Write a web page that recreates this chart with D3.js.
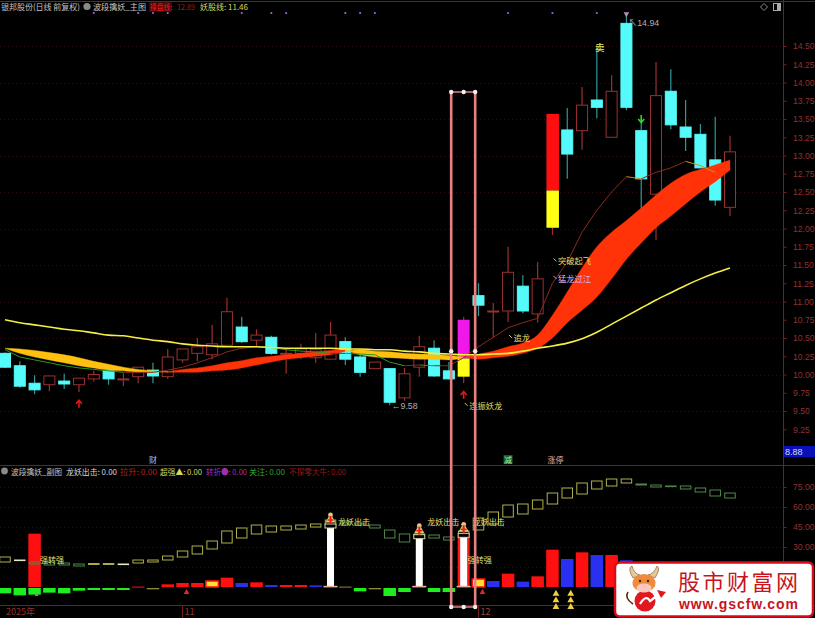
<!DOCTYPE html>
<html><head><meta charset="utf-8">
<script src="https://cdn.jsdelivr.net/npm/d3@7/dist/d3.min.js"></script>
<style>
html,body{margin:0;padding:0;background:#000;overflow:hidden}
svg{display:block}
text{font-family:"Liberation Sans","Noto Sans CJK SC",sans-serif}
.cjk{font-family:"Noto Sans CJK SC","Liberation Sans",sans-serif}
</style></head><body>
<svg id="c" width="815" height="618"></svg>
<script>
// ---------- data ----------
const open  =[10.29,10.12,9.88,9.86,9.91,9.86,9.94,10.05,9.94,9.97,10.06,9.97,10.20,10.29,10.27,10.40,10.65,10.47,10.51,10.29,10.29,10.23,10.21,10.45,10.24,10.08,10.08,9.68,10.10,10.36,10.05,9.97,11.08,10.87,10.87,11.21,10.83,12.01,13.35,13.34,13.76,13.25,14.81,13.34,12.47,13.88,13.39,13.29,12.94,12.29];
const close =[10.10,9.84,9.79,9.98,9.87,9.95,10.00,9.94,9.94,10.10,9.98,10.24,10.35,10.38,10.42,10.86,10.45,10.54,10.29,10.29,10.35,10.34,10.54,10.21,10.03,10.17,9.62,10.01,10.38,9.98,9.94,10.75,10.95,10.87,11.40,10.87,11.31,13.57,13.02,13.69,13.66,13.88,13.66,12.68,13.82,13.42,13.25,12.83,12.39,13.05];
const high  =[10.30,10.18,9.99,9.98,10.01,9.95,10.05,10.07,10.02,10.10,10.16,10.35,10.35,10.50,10.68,11.05,10.79,10.62,10.53,10.36,10.42,10.57,10.72,10.51,10.34,10.17,10.08,10.09,10.53,10.47,10.17,10.79,11.25,10.98,11.75,11.36,11.54,13.57,13.65,13.94,14.51,14.10,14.94,13.49,14.28,14.18,13.76,13.43,13.53,13.27];
const low   =[10.09,9.82,9.73,9.77,9.80,9.76,9.90,9.86,9.84,9.88,9.88,9.94,10.16,10.18,10.21,10.40,10.43,10.39,10.27,10.01,10.21,10.16,10.21,10.13,9.97,10.08,9.58,9.64,9.97,9.97,9.93,9.88,10.80,10.51,10.72,10.84,10.71,11.91,12.68,13.08,13.51,13.25,13.62,12.25,11.84,13.36,13.06,12.83,12.31,12.17];
const longLine=[10.75,10.71,10.68,10.65,10.62,10.60,10.57,10.54,10.53,10.50,10.47,10.45,10.42,10.40,10.39,10.38,10.38,10.38,10.37,10.36,10.36,10.36,10.36,10.35,10.35,10.34,10.34,10.32,10.31,10.29,10.28,10.27,10.27,10.28,10.29,10.32,10.36,10.39,10.43,10.49,10.58,10.69,10.80,10.91,11.02,11.12,11.22,11.31,11.39,11.46];
const ribbonFast=[10.36,10.29,10.24,10.20,10.16,10.12,10.09,10.06,10.05,10.03,10.03,10.04,10.07,10.09,10.12,10.16,10.19,10.23,10.25,10.27,10.29,10.31,10.33,10.34,10.27,10.24,10.23,10.22,10.21,10.21,10.20,10.23,10.28,10.32,10.38,10.43,10.54,10.81,11.13,11.46,11.75,11.95,12.11,12.28,12.46,12.62,12.74,12.81,12.87,12.94];
const ribbonSlow=[10.36,10.35,10.33,10.30,10.27,10.23,10.18,10.14,10.10,10.07,10.05,10.03,10.03,10.03,10.05,10.06,10.09,10.13,10.17,10.21,10.23,10.25,10.27,10.32,10.34,10.32,10.31,10.29,10.28,10.27,10.26,10.24,10.21,10.23,10.25,10.29,10.36,10.50,10.71,10.88,11.06,11.31,11.58,11.80,12.01,12.17,12.34,12.50,12.64,12.80];
const midLine=[10.34,10.24,10.20,10.16,10.12,10.09,10.07,10.05,10.03,10.03,10.03,10.06,10.10,10.16,10.23,10.31,10.36,10.38,10.37,10.34,10.32,10.31,10.29,10.29,10.28,10.27,10.17,10.12,10.13,10.12,10.12,10.23,10.38,10.51,10.64,10.71,10.77,11.25,11.54,11.95,12.25,12.50,12.71,12.68,12.77,12.83,12.92,12.86,12.77];
const priceTicks=[14.5,14.25,14,13.75,13.5,13.25,13,12.75,12.5,12.25,12,11.75,11.5,11.25,11,10.75,10.5,10.25,10,9.75,9.5,9.25];
const priceGrid=[14.5,14,13.5,13,12.5,12,11.5,11,10.5,10,9.5];
const topDots=[6,9,10,11,16,18,19,23,24,25,34,37,40];

const subOpen =[18.75,20.25,18.75,18.75,18,17.25,16.9,16.9,17.25,18,18.75,20.25,22.5,24.75,28.5,33,36.75,39.75,41.25,42.75,43.5,45,46.5,48.75,48,46.5,42.75,39.75,37.5,39,37.5,39,42.75,47.25,52.5,54.75,58.5,62.25,66.75,69.75,73.5,75.75,78,77.25,76.5,75.75,75.75,74.25,72.75,70.5];
const subClose=[22.5,20.25,17.25,16.5,16.5,15.75,17.6,17.6,17.25,20.25,20.25,23.25,27,30.75,34.5,42,44.25,46.5,45.75,45.75,46.5,47.25,50.25,47.25,46.5,44.25,36.75,33.75,39.75,36.75,35.25,42,51.75,56.25,61.5,62.25,65.25,70.5,74.25,78,79.5,81,81,76.5,75,75.4,73.5,71.25,68.25,66.75];
const barValue=[-4,-5.5,40,-3.5,-4,-2,-1.5,-1.5,-1.5,0.3,-1,2,3,3,4.5,7,3,3.5,1.5,1.5,1.5,1.2,45,0.3,-2.5,-1,-6,-3,37,-3,-3,38,6,4.5,10,4,8,28,21,26,24,24,20,0,0,0,0,0,0,0];
const barKind =["g","g","r","g","g","g","g","g","g","r","o","r","r","r","y","r","b","r","b","r","r","b","w","o","g","o","g","g","w","g","g","w","y","b","r","b","r","r","b","r","b","r","b","g","g","g","g","g","g","g"];
const dipIndex=[2], dipValue=[-5];
const pillarIndex=[22,28,31];
const subTicks=[75,60,45,30];
const subGrid=[75,60,45,30,15];
const triIndex=[37,38];
const chartLabels=[
 {i:37,p:11.55,t:"突破起飞",c:"#e8dc6a"},
 {i:37,p:11.31,t:"猛龙过江",c:"#d8b4e8"},
 {i:34,p:10.50,t:"追龙",c:"#e8dc6a"},
 {i:31,p:9.57,t:"连振妖龙",c:"#e8dc6a"}];
const priceNotes=[
 {i:26,p:9.57,t:"←9.58"},
 {i:42,p:14.81,t:"↖14.94"}];
const subLabels=[
 {i:2,v:20,dx:5.5,t:"强转强"},{i:22,v:48.75,dx:7.5,t:"龙妖出击"},{i:28,v:48.75,dx:8,t:"龙妖出击"},{i:31,v:48.75,dx:9,t:"龙妖出击"},{i:31,v:20,dx:4,t:"强转强"}];
const dateTicks=[{i:0,t:"2025年"},{i:12,t:"11"},{i:32,t:"12"}];

// ---------- scales ----------
const svg=d3.select("#c");
const W=815,H=618,axisX=783.5;
const x=d3.scaleLinear().domain([0,49]).range([5,730]);
const y=d3.scaleLinear().domain([10,14.5]).range([374.5,46]);
const ys=d3.scaleLinear().domain([0,75]).range([587,487]);
const RED="#9a3030",CY="#55fbfb",DARK="#7a1c1c";
svg.append("rect").attr("width",W).attr("height",H).attr("fill","#000");

// grid
const grid=svg.append("g").attr("stroke","#2e0c0c").attr("stroke-width",1).attr("stroke-dasharray","1 3");
grid.selectAll(".a").data(priceGrid).join("line").attr("x1",0).attr("x2",axisX).attr("y1",d=>Math.round(y(d))+.5).attr("y2",d=>Math.round(y(d))+.5);
grid.selectAll(".b").data(subGrid).join("line").attr("x1",0).attr("x2",axisX).attr("y1",d=>Math.round(ys(d))+.5).attr("y2",d=>Math.round(ys(d))+.5);

// frame
const frame=svg.append("g").attr("stroke",DARK).attr("stroke-width",1);
frame.append("line").attr("x1",0).attr("x2",W).attr("y1",1.5).attr("y2",1.5);
frame.append("line").attr("x1",0).attr("x2",W).attr("y1",465.5).attr("y2",465.5);
frame.append("line").attr("x1",0).attr("x2",W).attr("y1",605.5).attr("y2",605.5);
frame.append("line").attr("x1",axisX).attr("x2",axisX).attr("y1",0).attr("y2",605);

// axes
function styleAxis(g){g.select(".domain").remove();g.selectAll("line").attr("stroke",DARK);
 g.selectAll("text").attr("fill","#93302f").attr("font-size",8.6).style("font-family","Liberation Sans");}
svg.append("g").attr("transform",`translate(${axisX},0)`).call(d3.axisRight(y).tickValues(priceTicks).tickFormat(d3.format(".2f")).tickSize(3).tickPadding(6.5)).call(styleAxis);
svg.append("g").attr("transform",`translate(${axisX},0)`).call(d3.axisRight(ys).tickValues(subTicks).tickFormat(d3.format(".2f")).tickSize(3).tickPadding(6.5)).call(styleAxis);

// 8.88 tag
svg.append("rect").attr("x",784).attr("y",446).attr("width",31).attr("height",11).attr("fill","#0a10b8");
svg.append("text").attr("x",785).attr("y",454.5).attr("fill","#d8d8ff").attr("font-size",9).text("8.88");

// candles
const idx=d3.range(open.length);
const cg=svg.append("g");
const bw=11;
cg.selectAll(".w").data(idx).join("line")
 .attr("x1",i=>x(i)).attr("x2",i=>x(i)).attr("y1",i=>y(high[i])).attr("y2",i=>y(low[i]))
 .attr("stroke",i=>close[i]<open[i]?"#2f9a9a":RED).attr("stroke-width",1.2);
cg.selectAll(".b").data(idx.filter(i=>i!==31&&i!==37)).join("rect")
 .attr("x",i=>x(i)-bw/2).attr("width",bw)
 .attr("y",i=>y(Math.max(open[i],close[i])))
 .attr("height",i=>Math.max(1,Math.abs(y(open[i])-y(close[i]))))
 .attr("fill",i=>close[i]<open[i]?CY:"#000")
 .attr("stroke",i=>close[i]<open[i]?CY:RED).attr("stroke-width",1);

// special bars (index 31 magenta/yellow, index 37 red/yellow)
const splitA=10.22, splitB=12.52;
cg.append("rect").attr("x",x(31)-6).attr("width",12).attr("y",y(close[31])).attr("height",y(splitA)-y(close[31])).attr("fill","#f018e8");
cg.append("rect").attr("x",x(31)-6).attr("width",12).attr("y",y(splitA)).attr("height",y(open[31])-y(splitA)).attr("fill","#ffff14");
cg.append("rect").attr("x",x(37)-6).attr("width",12.5).attr("y",y(close[37])).attr("height",y(splitB)-y(close[37])).attr("fill","#ff0f0f");
cg.append("rect").attr("x",x(37)-6).attr("width",12.5).attr("y",y(splitB)).attr("height",y(open[37])-y(splitB)).attr("fill","#ffff14");

// ribbon: one smooth area per stretch of equal sign
const rib=svg.append("g");
const ribArea=d3.area().x(d=>x(d)).y0(d=>y(ribbonFast[d])).y1(d=>y(ribbonSlow[d])).curve(d3.curveMonotoneX);
[[0,11,"#ffc010"],[11,23,"#ff3208"],[23,31,"#ffc010"],[31,49,"#ff3208"]].forEach(s=>{
 rib.append("path").attr("d",ribArea(d3.range(s[0],s[1]+1))).attr("fill",s[2]).attr("stroke",s[2]).attr("stroke-width",.4);
});
// thin line
const mg=svg.append("g").attr("fill","none").attr("stroke-width",1);
d3.range(midLine.length-1).forEach(i=>{
 const fall=midLine[i+1]<midLine[i];
 mg.append("line").attr("x1",x(i)).attr("x2",x(i+1)).attr("y1",y(midLine[i])).attr("y2",y(midLine[i+1]))
  .attr("stroke",!fall?"#8a2a1c":(i>40?"#c89020":"#2a9a2a"));
});
// long yellow
svg.append("path").attr("d",d3.line().x((d,i)=>x(i)).y(d=>y(d)).curve(d3.curveMonotoneX)(longLine)).attr("fill","none").attr("stroke","#f4f040").attr("stroke-width",1.6);

// top dots
svg.append("g").selectAll("circle").data(topDots).join("circle").attr("cx",i=>x(i)).attr("cy",13).attr("r",1.1).attr("fill","#b060d8");
svg.append("path").attr("d",d3.symbol(d3.symbolTriangle,14)()).attr("transform",`translate(${x(42)},14) rotate(180)`).attr("fill","#b090b0");

// arrows
function upArrow(i,p,col,flip){const g=svg.append("g").attr("transform",`translate(${x(i)},${y(p)})${flip?" rotate(180)":""}`).attr("stroke",col).attr("fill","none").attr("stroke-width",1.6);
 g.append("line").attr("x1",0).attr("x2",0).attr("y1",-3).attr("y2",4);
 g.append("path").attr("d","M-3,0 L0,-3.5 L3,0");}
upArrow(5,9.6,"#e81818");upArrow(31,9.72,"#e81818");upArrow(43,13.5,"#28d828",true);

// sell mark
svg.append("text").attr("class","cjk").attr("x",x(40)+3).attr("y",y(14.51)+6).attr("text-anchor","middle").attr("font-size",9.5).attr("font-weight",700).attr("fill","#c8c850").text("卖");

// labels: small slanted tick followed by the text
const lab=svg.append("g").selectAll("g").data(chartLabels).join("g");
lab.append("line").attr("x1",d=>x(d.i)+1).attr("x2",d=>x(d.i)+4).attr("y1",d=>y(d.p)-3).attr("y2",d=>y(d.p)).attr("stroke",d=>d.c).attr("stroke-width",.9);
lab.append("text").attr("class","cjk").attr("x",d=>x(d.i)+5.5).attr("y",d=>y(d.p)).attr("dy",".36em").attr("font-size",8.3).attr("fill",d=>d.c).text(d=>d.t);
svg.append("g").selectAll("text").data(priceNotes).join("text")
 .attr("x",d=>x(d.i)+2).attr("y",d=>y(d.p)).attr("dy",".35em").attr("font-size",8.8).attr("fill","#b0b0b0").text(d=>d.t);

// sub panel bars
const sg=svg.append("g");
const bc={g:"#1eee1e",r:"#ff1010",b:"#2a30f0",o:"#8a8a3a",y:"#ffe030",w:"#fff"};
const sbw=12.5;
sg.selectAll(".bar").data(idx.filter(i=>barValue[i]!==0&&!pillarIndex.includes(i))).join("rect")
 .attr("x",i=>x(i)-sbw/2).attr("width",sbw)
 .attr("y",i=>barValue[i]>0?ys(barValue[i]):ys(0)+1)
 .attr("height",i=>Math.max(1,Math.abs(ys(barValue[i])-ys(0))))
 .attr("fill",i=>bc[barKind[i]])
 .attr("stroke",i=>barKind[i]==="y"?"#ff1010":"none").attr("stroke-width",1.5);
sg.selectAll(".dip").data(dipIndex).join("rect").attr("x",i=>x(i)-sbw/2).attr("width",sbw).attr("y",ys(0)+1)
 .attr("height",(d,k)=>ys(dipValue[k])-ys(0)).attr("fill",bc.g);

// hollow boxes
const hbw=10.5;
sg.selectAll(".box").data(idx).join("rect")
 .attr("x",i=>x(i)-hbw/2).attr("width",hbw)
 .attr("y",i=>ys(Math.max(subOpen[i],subClose[i])))
 .attr("height",i=>Math.max(.6,Math.abs(ys(subOpen[i])-ys(subClose[i]))))
 .attr("fill","none")
 .attr("stroke",i=>subOpen[i]===subClose[i]?"#e8e8c8":(subClose[i]>subOpen[i]?"#b0b04a":"#4f8a4a")).attr("stroke-width",1);

// pillars
const pg=sg.selectAll(".pillar").data(pillarIndex).join("g");
pg.filter(i=>i===31).append("rect").attr("x",i=>x(i)-6).attr("width",12).attr("y",i=>ys(barValue[i])).attr("height",i=>ys(0)-ys(barValue[i])).attr("fill","#ff1818");
pg.append("rect").attr("x",i=>x(i)-3.5).attr("width",7).attr("y",i=>ys(barValue[i])).attr("height",i=>ys(0)-ys(barValue[i])).attr("fill","#fff");
pg.append("rect").attr("x",i=>x(i)-7).attr("width",14).attr("y",ys(0)-1.2).attr("height",1.6).attr("fill","#e8b0a0");
pg.append("rect").attr("x",i=>x(i)-5.5).attr("width",11).attr("y",i=>ys(barValue[i])-3).attr("height",4).attr("fill","#000").attr("stroke","#d8d8a8").attr("stroke-width",1);
pg.append("circle").attr("cx",i=>x(i)).attr("cy",i=>ys(barValue[i])-12).attr("r",2.4).attr("fill","#e8c090");
pg.append("path").attr("d",d3.symbol(d3.symbolTriangle,46)()).attr("transform",i=>`translate(${x(i)},${ys(barValue[i])-7.5})`).attr("fill","#d8d070");
pg.append("line").attr("x1",i=>x(i)).attr("x2",i=>x(i)).attr("y1",i=>ys(barValue[i])-11).attr("y2",i=>ys(barValue[i])-3).attr("stroke","#f01818").attr("stroke-width",2);
pg.append("line").attr("x1",i=>x(i)-3).attr("x2",i=>x(i)+3).attr("y1",i=>ys(barValue[i])-7).attr("y2",i=>ys(barValue[i])-7).attr("stroke","#f01818").attr("stroke-width",1.5);

// little triangles
triIndex.forEach(i=>{[-3.5,-8.5,-13.5].forEach(v=>{
 svg.append("path").attr("d",d3.symbol(d3.symbolTriangle,20)()).attr("transform",`translate(${x(i)+3.5},${ys(v-1.5)})`).attr("fill","#f0d040");
});});
[12,32].forEach(i=>svg.append("path").attr("d",d3.symbol(d3.symbolTriangle,14)()).attr("transform",`translate(${x(i)+4},${ys(-4)})`).attr("fill","#e02828"));
svg.append("path").attr("d",d3.symbol(d3.symbolTriangle,6)()).attr("transform",`translate(${x(2)+2},${ys(-6)})`).attr("fill","#909090");

// sub labels
svg.append("g").selectAll("text").data(subLabels).join("text").attr("class","cjk")
 .attr("x",d=>x(d.i)+d.dx).attr("y",d=>ys(d.v)).attr("dy",".36em").attr("font-size",8).attr("fill","#e8e070").text(d=>d.t);

// selection rails
const railL=x(31)-12.5,railR=x(31)+11.5,railTop=y(13.87),railBot=ys(-15);
const rail=svg.append("g").attr("stroke","#e88080").attr("stroke-width",2.6);
rail.append("line").attr("x1",railL).attr("x2",railL).attr("y1",railTop).attr("y2",railBot);
rail.append("line").attr("x1",railR).attr("x2",railR).attr("y1",railTop).attr("y2",railBot);
rail.append("line").attr("x1",railL).attr("x2",railR).attr("y1",railTop).attr("y2",railTop).attr("stroke-width",1.5);
rail.append("line").attr("x1",railL).attr("x2",railR).attr("y1",railBot).attr("y2",railBot).attr("stroke-width",1.5);
const dots=[[railL,railTop],[x(31),railTop],[railR,railTop],[railL,railBot],[x(31),railBot],[railR,railBot],[railL,y(10.32)],[railR,y(10.32)]];
svg.append("g").selectAll("circle").data(dots).join("circle").attr("cx",d=>d[0]).attr("cy",d=>d[1]).attr("r",2.2).attr("fill","#f4eeee");

// date axis
svg.append("g").selectAll("text").data(dateTicks).join("text").attr("class","cjk")
 .attr("x",d=>x(d.i)+(d.i===0?1:2)).attr("y",615).attr("font-size",9).attr("fill",d=>d.i===32?"#a04040":"#93302f").text(d=>d.t);
svg.append("g").selectAll("line").data(dateTicks.slice(1)).join("line").attr("x1",d=>x(d.i)).attr("x2",d=>x(d.i)).attr("y1",606).attr("y2",618).attr("stroke",DARK);

// signal tags
svg.append("rect").attr("x",x(34)-4.5).attr("y",455).attr("width",9).attr("height",9).attr("fill","#1e5a2a");
const tags=[{i:10,t:"财",c:"#9cc8ff",dx:-4},{i:34,t:"减",c:"#9ff0a8",dx:-4},{i:37,t:"涨停",c:"#f0b0a0",dx:-5}];
svg.append("g").selectAll("text").data(tags).join("text").attr("class","cjk")
 .attr("x",d=>x(d.i)+d.dx).attr("y",463).attr("font-size",8).attr("fill",d=>d.c).text(d=>d.t);

// header texts, each fitted into the width seen in the picture
function hdr(xp,xe,yp,t,c){svg.append("text").attr("class","cjk").attr("x",xp).attr("y",yp).attr("font-size",8.2).attr("textLength",xe-xp).attr("lengthAdjust","spacingAndGlyphs").attr("fill",c).text(t);}
hdr(1,80,10,"银邦股份(日线 前复权)","#c4c4c4");
svg.append("circle").attr("cx",87).attr("cy",6.5).attr("r",3.6).attr("fill","#8a8a8a");
hdr(93,146,10,"波段擒妖_主图","#c4c4c4");
svg.append("rect").attr("x",149).attr("y",2).attr("width",23).attr("height",10).attr("fill","#3a0808");
hdr(150,172,10,"操盘线:","#ee2020");
hdr(177,195,10,"12.89","#8a2020");
hdr(200,248,10,"妖股线: 11.46","#d4d860");
svg.append("circle").attr("cx",4.5).attr("cy",471).attr("r",3.4).attr("fill","#8a8a8a");
hdr(11,62,475,"波段擒妖_副图","#c4c4c4");
hdr(66,117,475,"龙妖出击: 0.00","#d8d8d8");
hdr(120,157,475,"拉升: 0.00","#b02020");
hdr(160,202,475,"超强▲: 0.00","#d4d860");
hdr(206,247,475,"转折●: 0.00","#a030b0");
hdr(249,285,475,"关注: 0.00","#30a030");
hdr(289,346,475,"不探零大牛: 0.00","#901c1c");

// top right icons
svg.append("path").attr("d","M764,3.5 L767.5,7 L764,10.5 L760.5,7 Z").attr("fill","none").attr("stroke","#8a8a8a");
svg.append("rect").attr("x",773.5).attr("y",3.5).attr("width",7).attr("height",7).attr("fill","none").attr("stroke","#aaa");
svg.append("rect").attr("x",777).attr("y",3.5).attr("width",3.5).attr("height",7).attr("fill","#aaa");

// watermark
const wm=svg.append("g");
wm.append("rect").attr("x",615).attr("y",562.5).attr("width",198).attr("height",54).attr("rx",5).attr("fill","#fff").attr("stroke","#d80c18").attr("stroke-width",2.5);
wm.append("path").attr("d","M633,578 Q627,568 632,566 Q634,574 640,575 Z M655,578 Q661,568 657,566 Q654,574 648,575 Z").attr("fill","#e8c89a").attr("stroke","#7a4a20").attr("stroke-width",.6);
wm.append("path").attr("d","M628,592 Q624,598 633,604").attr("fill","none").attr("stroke","#5a3010").attr("stroke-width",1.6);
wm.append("circle").attr("cx",645).attr("cy",601).attr("r",10.5).attr("fill","#e01820");
wm.append("ellipse").attr("cx",644).attr("cy",583).attr("rx",11.5).attr("ry",9).attr("fill","#f08a3c");
wm.append("ellipse").attr("cx",644).attr("cy",588).attr("rx",7.5).attr("ry",4.5).attr("fill","#fbc8c0");
wm.append("circle").attr("cx",640).attr("cy",581).attr("r",1.2).attr("fill","#402010");
wm.append("circle").attr("cx",648).attr("cy",581).attr("r",1.2).attr("fill","#402010");
wm.append("path").attr("d","M640,604 Q646,594 650,601 L662,592").attr("fill","none").attr("stroke","#fff").attr("stroke-width",2.2);
wm.append("path").attr("d","M657,590 L666,592 L661,598 Z").attr("fill","#e01820");
wm.append("text").attr("class","cjk").attr("x",678).attr("y",590).attr("font-size",22).attr("fill","#c8141c").attr("textLength",120).text("股市财富网");
wm.append("text").attr("x",679).attr("y",609).attr("font-size",14).attr("font-weight",700).attr("fill","#c8141c").attr("textLength",119).text("www.gscfw.com");
</script>
</body></html>
